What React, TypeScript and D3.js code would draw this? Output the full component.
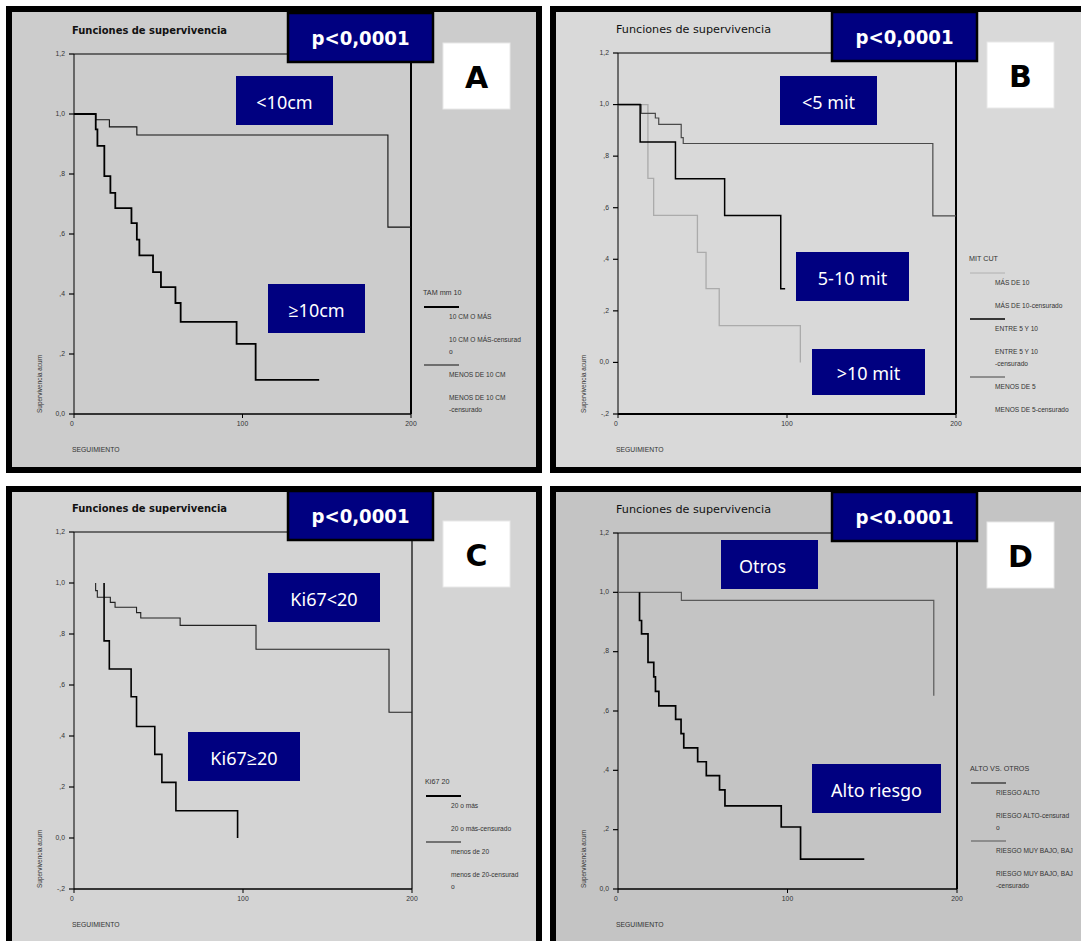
import React from 'react'
import * as d3 from 'd3'

// ---------- data ----------
const xTickVals = [0, 100, 200]
const xTickLabels = ['0', '100', '200']
const yTickValsPos = [0, 0.2, 0.4, 0.6, 0.8, 1.0, 1.2]
const yTickLabelsPos = ['0,0', ',2', ',4', ',6', ',8', '1,0', '1,2']
const yTickValsNeg = [-0.2, 0, 0.2, 0.4, 0.6, 0.8, 1.0, 1.2]
const yTickLabelsNeg = ['-,2', '0,0', ',2', ',4', ',6', ',8', '1,0', '1,2']

// A: tamaño tumoral
const aBigTime = [0, 12.9, 13.9, 18.0, 21.6, 24.5, 34.1, 37.3, 38.8, 46.9, 51.6, 60.2, 63.3, 96.5, 107.8, 145.5]
const aBigSurv = [1.0, 0.949, 0.894, 0.793, 0.737, 0.686, 0.636, 0.581, 0.529, 0.473, 0.423, 0.37, 0.307, 0.234, 0.114, 0.114]
const aSmallTime = [0, 12.9, 21.0, 37.3, 186.3, 200]
const aSmallSurv = [1.0, 0.981, 0.957, 0.93, 0.623, 0.623]

// B: mitosis
const bHighTime = [0, 17.7, 21.1, 47.0, 52.1, 59.9, 107.9]
const bHighSurv = [1.0, 0.714, 0.57, 0.427, 0.286, 0.143, 0.0]
const bMidTime = [0, 13.1, 34.0, 63.1, 96.3, 98.9]
const bMidSurv = [1.0, 0.855, 0.712, 0.57, 0.286, 0.286]
const bLowTime = [0, 13.7, 22.1, 24.1, 37.4, 38.6, 186.3, 200]
const bLowSurv = [1.0, 0.966, 0.948, 0.923, 0.872, 0.849, 0.568, 0.568]

// C: Ki67
const cLowTime = [12.8, 12.8, 13.8, 21.5, 24.3, 37.0, 39.5, 62.8, 107.7, 186.4, 200]
const cLowSurv = [1.0, 0.97, 0.944, 0.924, 0.905, 0.884, 0.863, 0.834, 0.74, 0.493, 0.493]
const cHighTime = [17.8, 17.8, 20.9, 33.8, 37.0, 47.8, 52.0, 60.3, 96.8]
const cHighSurv = [1.0, 0.773, 0.663, 0.554, 0.437, 0.328, 0.218, 0.107, 0.0]

// D: riesgo
const dOtherTime = [0, 37.4, 186.3]
const dOtherSurv = [1.0, 0.973, 0.651]
const dHighTime = [12.7, 12.7, 13.9, 17.7, 21.1, 22.1, 24.1, 34.0, 37.2, 38.8, 47.0, 52.1, 59.9, 63.1, 96.3, 107.7, 145.3]
const dHighSurv = [1.0, 0.905, 0.86, 0.764, 0.715, 0.666, 0.617, 0.572, 0.524, 0.476, 0.429, 0.382, 0.334, 0.28, 0.209, 0.101, 0.101]

const zip = (t: number[], s: number[]) => t.map((v, i) => [v, s[i]] as [number, number])

const NAVY = '#000080'
const SMALL = "'Liberation Sans', Arial, sans-serif"
const WIDE = "'DejaVu Sans', Verdana, sans-serif"
const LABEL = "'Noto Sans', 'Open Sans', sans-serif"

const panels = [
  {
    letter: 'A', pval: 'p<0,0001', bg: '#cccccc', titleBold: true,
    frame: [6, 6, 536, 467], left: 74, right: 411, top: 54, bottom: 414,
    yVals: yTickValsPos, yLabels: yTickLabelsPos, rightW: 2, bottomW: 1.4,
    curves: [
      { pts: zip(aSmallTime, aSmallSurv), color: '#111', w: 1.1 },
      { pts: zip(aBigTime, aBigSurv), color: '#000', w: 1.8 },
    ],
    boxes: [
      { text: '<10cm', x: 236, y: 76, w: 97, h: 49, dx: 0 },
      { text: '≥10cm', x: 268, y: 284, w: 97, h: 49, dx: 0 },
    ],
    legend: {
      x: 423, y: 293, title: 'TAM mm 10',
      items: [
        { color: '#000', w: 2, label: '10 CM O MÁS', cens: ['10 CM O MÁS-censurad', 'o'] },
        { color: '#111', w: 1, label: 'MENOS DE 10 CM', cens: ['MENOS DE 10 CM', '-censurado'] },
      ],
    },
  },
  {
    letter: 'B', pval: 'p<0,0001', bg: '#d9d9d9', titleBold: false,
    frame: [550, 6, 540, 467], left: 618, right: 956, top: 53, bottom: 414,
    yVals: yTickValsNeg, yLabels: yTickLabelsNeg, rightW: 2, bottomW: 2,
    curves: [
      { pts: zip(bHighTime, bHighSurv), color: '#ababab', w: 1.3 },
      { pts: zip(bLowTime, bLowSurv), color: '#4a4a4a', w: 1.2 },
      { pts: zip(bMidTime, bMidSurv), color: '#000', w: 1.5 },
    ],
    boxes: [
      { text: '<5 mit', x: 780, y: 76, w: 97, h: 49, dx: 0 },
      { text: '5-10 mit', x: 796, y: 252, w: 113, h: 49, dx: 0 },
      { text: '>10 mit', x: 812, y: 349, w: 113, h: 46, dx: 0 },
    ],
    legend: {
      x: 969, y: 259, title: 'MIT CUT',
      items: [
        { color: '#b0b0b0', w: 1, label: 'MÁS DE 10', cens: ['MÁS DE 10-censurado'] },
        { color: '#000', w: 1.3, label: 'ENTRE 5 Y 10', cens: ['ENTRE 5 Y 10', '-censurado'] },
        { color: '#444', w: 1, label: 'MENOS DE 5', cens: ['MENOS DE 5-censurado'] },
      ],
    },
  },
  {
    letter: 'C', pval: 'p<0,0001', bg: '#d4d4d4', titleBold: true,
    frame: [6, 486, 536, 470], left: 74, right: 412, top: 532, bottom: 889,
    yVals: yTickValsNeg, yLabels: yTickLabelsNeg, rightW: 1.2, bottomW: 1.4,
    curves: [
      { pts: zip(cLowTime, cLowSurv), color: '#222', w: 1.1 },
      { pts: zip(cHighTime, cHighSurv), color: '#000', w: 1.6 },
    ],
    boxes: [
      { text: 'Ki67<20', x: 268, y: 573, w: 112, h: 49, dx: 0 },
      { text: 'Ki67≥20', x: 188, y: 732, w: 112, h: 49, dx: 0 },
    ],
    legend: {
      x: 425, y: 782, title: 'Ki67 20',
      items: [
        { color: '#000', w: 2, label: '20 o más', cens: ['20 o más-censurado'] },
        { color: '#111', w: 1, label: 'menos de 20', cens: ['menos de 20-censurad', 'o'] },
      ],
    },
  },
  {
    letter: 'D', pval: 'p<0.0001', bg: '#c4c4c4', titleBold: false,
    frame: [550, 486, 540, 470], left: 618, right: 957, top: 533, bottom: 889,
    yVals: yTickValsPos, yLabels: yTickLabelsPos, rightW: 2, bottomW: 1.4,
    curves: [
      { pts: zip(dOtherTime, dOtherSurv), color: '#5a5a5a', w: 1.2 },
      { pts: zip(dHighTime, dHighSurv), color: '#000', w: 1.7 },
    ],
    boxes: [
      { text: 'Otros', x: 721, y: 540, w: 97, h: 49, dx: -7 },
      { text: 'Alto riesgo', x: 812, y: 764, w: 129, h: 49, dx: 0 },
    ],
    legend: {
      x: 970, y: 769, title: 'ALTO VS. OTROS',
      items: [
        { color: '#000', w: 1.2, label: 'RIESGO ALTO', cens: ['RIESGO ALTO-censurad', 'o'] },
        { color: '#555', w: 1, label: 'RIESGO MUY BAJO, BAJ', cens: ['RIESGO MUY BAJO, BAJ', '-censurado'] },
      ],
    },
  },
]

type P = (typeof panels)[number]

function Legend({ lg }: { lg: P['legend'] }) {
  const rows: React.ReactNode[] = []
  let y = lg.y + 14
  lg.items.forEach((it, i) => {
    rows.push(<line key={'l' + i} x1={lg.x + 1} x2={lg.x + 36} y1={y} y2={y} stroke={it.color} strokeWidth={it.w} />)
    rows.push(<text key={'a' + i} x={lg.x + 26} y={y + 10} dominantBaseline="middle">{it.label}</text>)
    it.cens.forEach((c, j) => {
      rows.push(<text key={'c' + i + j} x={lg.x + 26} y={y + 33 + j * 12} dominantBaseline="middle">{c}</text>)
    })
    y += 33 + (it.cens.length - 1) * 12 + 13
  })
  return (
    <g fontFamily={SMALL} fontSize={6.6} fill="#333">
      <text x={lg.x} y={lg.y} dominantBaseline="middle" fontSize={7.2}>{lg.title}</text>
      {rows}
    </g>
  )
}

function Panel({ p }: { p: P }) {
  const x = d3.scaleLinear().domain([0, 200]).range([p.left, p.right])
  const y = d3.scaleLinear().domain([p.yVals[0], 1.2]).range([p.bottom, p.top])
  const step = d3.line<[number, number]>().x(d => x(d[0])).y(d => y(d[1])).curve(d3.curveStepAfter)
  const [fx, fy, fw, fh] = p.frame
  const pbX = p.left + 214
  const pbY = p.top - 41
  return (
    <g>
      <rect x={fx + 3} y={fy + 3} width={fw - 6} height={fh - 6} fill={p.bg} stroke="#000" strokeWidth={6} />
      <text x={p.left - 2} y={p.top - 20} fontFamily={WIDE} fontSize={10} fontWeight={p.titleBold ? 'bold' : 'normal'}
        textLength={155} lengthAdjust="spacingAndGlyphs" fill="#111">Funciones de supervivencia</text>

      {/* plot frame */}
      <line x1={p.left} x2={p.right} y1={p.top} y2={p.top} stroke="#000" strokeWidth={1} />
      <line x1={p.left} x2={p.left} y1={p.top} y2={p.bottom} stroke="#000" strokeWidth={1} />
      <line x1={p.right} x2={p.right} y1={p.top} y2={p.bottom} stroke="#000" strokeWidth={p.rightW} />
      <line x1={p.left} x2={p.right} y1={p.bottom} y2={p.bottom} stroke="#000" strokeWidth={p.bottomW} />

      {/* ticks */}
      <g fontFamily={SMALL} fontSize={6.8} fill="#333">
        {p.yVals.map((v, i) => (
          <g key={'y' + i}>
            <line x1={p.left - 5} x2={p.left} y1={y(v)} y2={y(v)} stroke="#000" strokeWidth={1.2} />
            <text x={p.left - 9} y={y(v)} textAnchor="end" dominantBaseline="middle">{p.yLabels[i]}</text>
          </g>
        ))}
        {xTickVals.map((v, i) => (
          <g key={'x' + i}>
            <line x1={x(v)} x2={x(v)} y1={p.bottom} y2={p.bottom + 4} stroke="#000" strokeWidth={1} />
            <text x={x(v) - (i === 0 ? 2 : 0)} y={p.bottom + 10} textAnchor="middle" dominantBaseline="middle">{xTickLabels[i]}</text>
          </g>
        ))}
        <text x={p.left - 2} y={p.bottom + 36} dominantBaseline="middle">SEGUIMIENTO</text>
        <text transform={`translate(${p.left - 34},${p.bottom - 1}) rotate(-90)`} dominantBaseline="middle"
          textLength={58} lengthAdjust="spacingAndGlyphs">Supervivencia acum</text>
      </g>

      {p.curves.map((c, i) => (
        <path key={i} d={step(c.pts) || ''} fill="none" stroke={c.color} strokeWidth={c.w} />
      ))}

      {p.boxes.map((b, i) => (
        <g key={i}>
          <rect x={b.x} y={b.y} width={b.w} height={b.h} fill={NAVY} />
          <text x={b.x + b.w / 2 + b.dx} y={b.y + b.h / 2 + 1} textAnchor="middle" dominantBaseline="central"
            fontFamily={LABEL} fontSize={18} fill="#fff">{b.text}</text>
        </g>
      ))}

      <rect x={pbX} y={pbY} width={145} height={49} fill={NAVY} stroke="#000" strokeWidth={2.5} />
      <text x={pbX + 72.5} y={pbY + 25} textAnchor="middle" dominantBaseline="central" fontFamily={WIDE}
        fontWeight="bold" fontSize={20} fill="#fff" textLength={98} lengthAdjust="spacingAndGlyphs">{p.pval}</text>

      <rect x={pbX + 155} y={pbY + 30} width={67} height={66} fill="#fff" stroke="#e8e8e8" strokeWidth={1} />
      <text x={pbX + 155 + 33.5} y={pbY + 30 + 34} textAnchor="middle" dominantBaseline="central" fontFamily={WIDE}
        fontWeight="bold" fontSize={30} fill="#000">{p.letter}</text>

      <Legend lg={p.legend} />
    </g>
  )
}

export default function App() {
  return (
    <svg width={1081} height={941} style={{ position: 'absolute', left: 0, top: 0, background: '#fff' }}>
      <rect width={1081} height={941} fill="#fff" />
      {panels.map(p => <Panel key={p.letter} p={p} />)}
    </svg>
  )
}
